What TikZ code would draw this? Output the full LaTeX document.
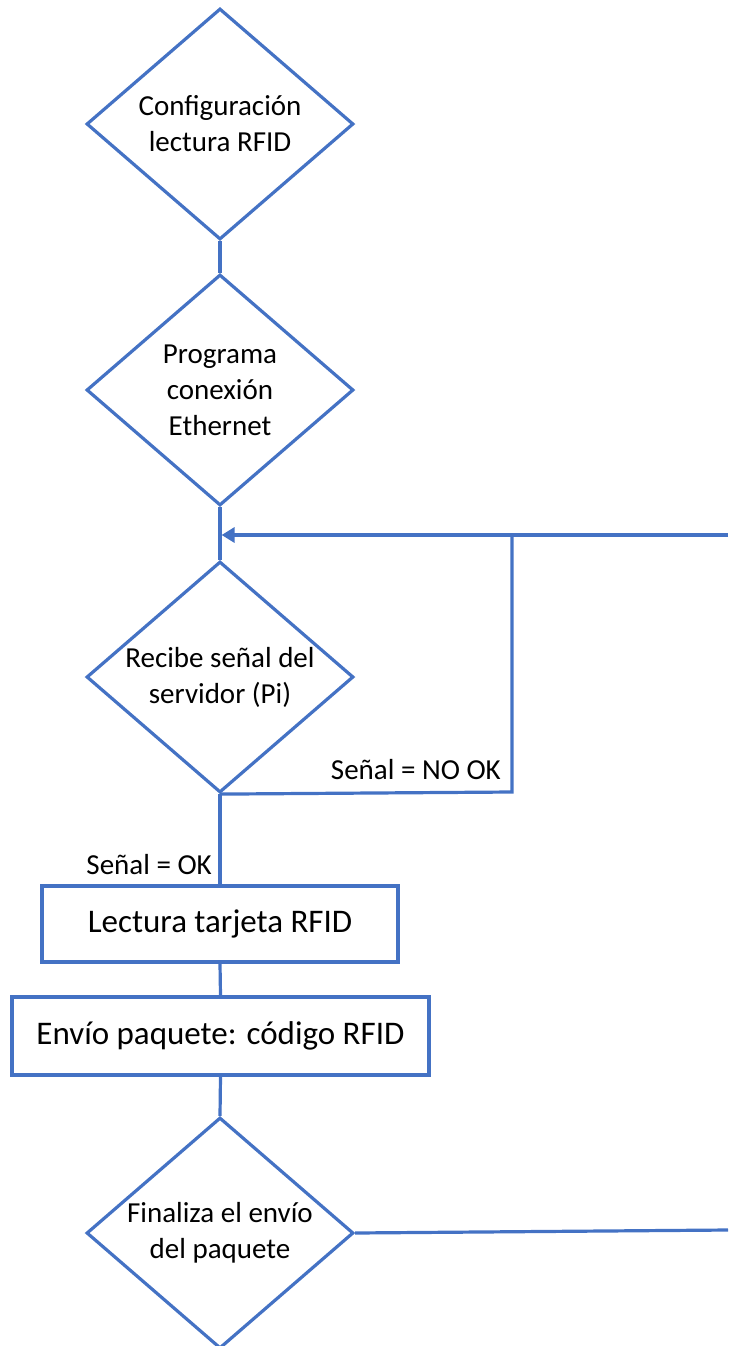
\documentclass[tikz,border=0pt]{standalone}
\usepackage{fontspec}
\setmainfont{Carlito}
\usetikzlibrary{shapes.geometric,arrows.meta}
\definecolor{flowblue}{HTML}{4472C4}
\tikzset{
  flowline/.style={draw=flowblue, line width=3.2pt},
  decision/.style={flowline, shape=diamond, minimum width=267pt, minimum height=231pt, inner sep=0pt},
  dtext/.style={align=center, inner sep=0pt, font=\fontsize{29}{36}\selectfont},
  process/.style={flowline, rectangle, inner sep=0pt, font=\fontsize{33}{40}\selectfont},
  lbl/.style={inner sep=0pt, font=\fontsize{29}{36}\selectfont},
  conn/.style={flowline, line cap=butt, line join=miter},
}
\begin{document}
\begin{tikzpicture}[x=1pt, y=-1pt]
  \useasboundingbox (0,0) rectangle (728,1346);

  % decisions and processes
  \node[decision] (d1) at (220,124) {};
  \node[dtext] (t1) at (d1) {Configuración\\lectura RFID};
  \node[decision] (d2) at (220,390) {};
  \node[dtext] (t2) at (d2) {Programa\\conexión\\Ethernet};
  \node[decision] (d3) at (220,677) {};
  \node[dtext] (t3) at (d3) {Recibe señal del\\servidor (Pi)};
  \node[process, minimum width=356pt, minimum height=76pt] (p1) at (220,924) {Lectura tarjeta RFID};
  \node[process, minimum width=417pt, minimum height=78pt] (p2) at (220.5,1036) {Envío paquete: código RFID};
  \node[decision] (d4) at (220,1233) {};
  \node[dtext] (t4) at (d4) {Finaliza el envío\\del paquete};

  % helper points
  \coordinate (j1) at (220,535);
  \coordinate (l1) at (512,792);
  \coordinate (l2) at (512,535);
  \coordinate (e1) at (728,535);
  \coordinate (e2) at (728,1230);

  % main flow
  \draw[conn] (d1.south) -- (d2.north);
  \draw[conn] (d2.south) -- (d3.north);
  \draw[conn] (d3.south) -- (p1.north);
  \draw[conn] (p1.south) -- (p2.north);
  \draw[conn] (p2.south) -- (d4.north);

  % loop back when the signal is not OK
  \draw[conn] (d3.south) -- (l1) -- (l2);
  \draw[conn] (e1) -- (l2);
  \draw[conn, line width=4.8pt, -{Triangle[length=13pt,width=15pt]}] (l2) -- ([xshift=1.6pt]j1);

  % exit from the last decision
  \draw[conn] (d4.east) -- (e2);

  % branch labels
  \node[lbl, anchor=base east] (nok) at (501,779) {Señal = NO OK};
  \node[lbl, anchor=base east] (ok) at (212,874) {Señal = OK};
\end{tikzpicture}
\end{document}
